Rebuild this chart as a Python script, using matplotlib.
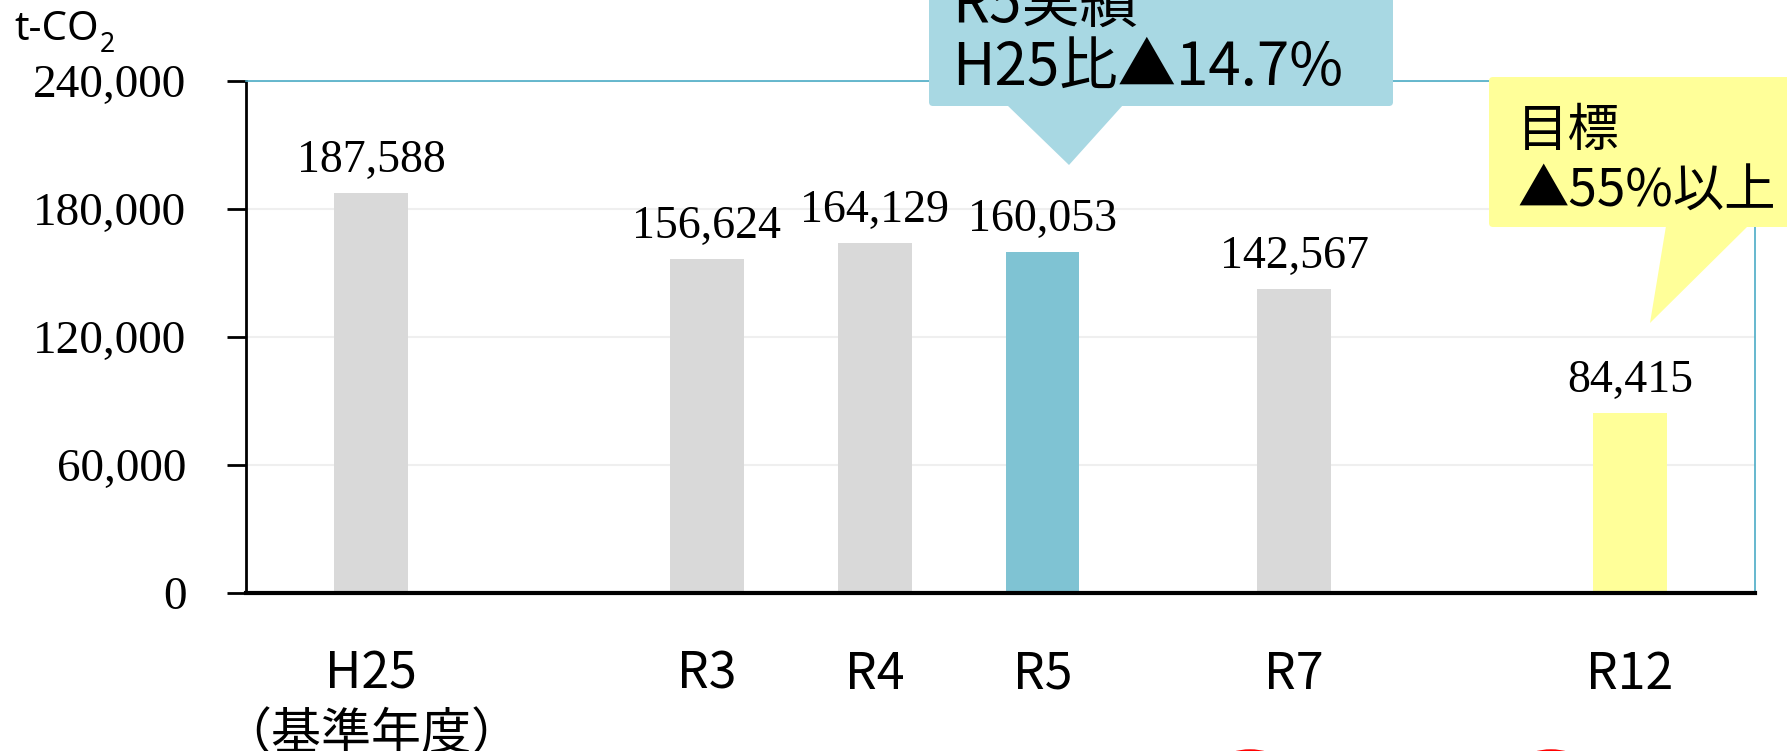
import matplotlib.pyplot as plt
from matplotlib.patches import FancyBboxPatch, Polygon, Ellipse

# CO2 emissions by fiscal year (t-CO2)
years = ["H25", "R3", "R4", "R5", "R7", "R12"]
emissions = [187588, 156624, 164129, 160053, 142567, 84415]
bar_colors = ["#D9D9D9", "#D9D9D9", "#D9D9D9", "#7FC3D3", "#D9D9D9", "#FFFF99"]
base_note = "（基準年度）"
y_ticks = [0, 60000, 120000, 180000, 240000]

callout_actual = ["R5実績", "H25比▲14.7%"]
callout_target = ["目標", "▲55%以上"]

W, H = 1787, 751
xpos = [0, 2, 3, 4, 5.5, 7.5]   # gaps where years are skipped

fig = plt.figure(figsize=(W / 100, H / 100), dpi=100)
ax = fig.add_axes([246 / W, 1 - 593 / H, (1755 - 246) / W, (593 - 81) / H])

ax.bar(xpos, emissions, width=0.44, color=bar_colors, zorder=3)
for x, v in zip(xpos, emissions):
    ax.annotate(f"{v:,}", (x, v), xytext=(0, 15), textcoords="offset points",
                ha="center", va="baseline", fontsize=33, family="Liberation Serif")

ax.set_xlim(-0.744, 8.244)
ax.set_ylim(0, 240000)
ax.set_yticks(y_ticks)
ax.set_yticklabels([f"{t:,}" for t in y_ticks], family="Liberation Serif", fontsize=34)
ax.tick_params(axis="y", length=14, width=2, pad=29)
ax.set_xticks(xpos)
ax.set_xticklabels(years, family="Noto Sans CJK JP", fontsize=36)
ax.tick_params(axis="x", length=0, pad=40)
ax.grid(axis="y", color="#EFEFEF", lw=1.5, zorder=0)
ax.set_axisbelow(True)

ax.spines["left"].set_linewidth(2)
ax.spines["bottom"].set_linewidth(3)
ax.spines["bottom"].set_zorder(4)
for s in ("top", "right"):
    ax.spines[s].set_color("#4BACC6")
    ax.spines[s].set_linewidth(1.2)

# overlay in pixel coordinates for unit label and callouts
ov = fig.add_axes([0, 0, 1, 1], zorder=5)
ov.set_xlim(0, W)
ov.set_ylim(H, 0)
ov.axis("off")
ov.patch.set_visible(False)

ov.text(371, 749, base_note, ha="center", va="baseline",
        family="Noto Sans CJK JP", fontsize=36)

ov.text(14, 40, "t-CO", va="baseline", family="Noto Sans", fontsize=29)
ov.text(100, 52, "2", va="baseline", family="Noto Sans", fontsize=19)

blue = "#A8D8E3"
ov.add_patch(FancyBboxPatch((929, -40), 464, 146, boxstyle="round,pad=0,rounding_size=4",
                            fc=blue, ec="none"))
ov.add_patch(Polygon([(1007, 105), (1123, 105), (1069, 165)], closed=True, fc=blue, ec="none"))
ov.text(952, 22, callout_actual[0], va="baseline", family="Noto Sans CJK JP", fontsize=42)
ov.text(952, 85, callout_actual[1], va="baseline", family="Noto Sans CJK JP", fontsize=42)

yellow = "#FFFF99"
ov.add_patch(FancyBboxPatch((1489, 77), 340, 150, boxstyle="round,pad=0,rounding_size=4",
                            fc=yellow, ec="none"))
ov.add_patch(Polygon([(1666, 226), (1748, 226), (1650, 323)], closed=True, fc=yellow, ec="none"))
ov.text(1517, 146, callout_target[0], va="baseline", family="Noto Sans CJK JP", fontsize=37)
ov.text(1517, 207, callout_target[1], va="baseline", family="Noto Sans CJK JP", fontsize=37)

# red circle marks just below the frame
for cx in (1250, 1551):
    ov.add_patch(Ellipse((cx, 786), 90, 70, fc="none", ec="red", lw=2.5))

fig.savefig("out.png", dpi=100)
